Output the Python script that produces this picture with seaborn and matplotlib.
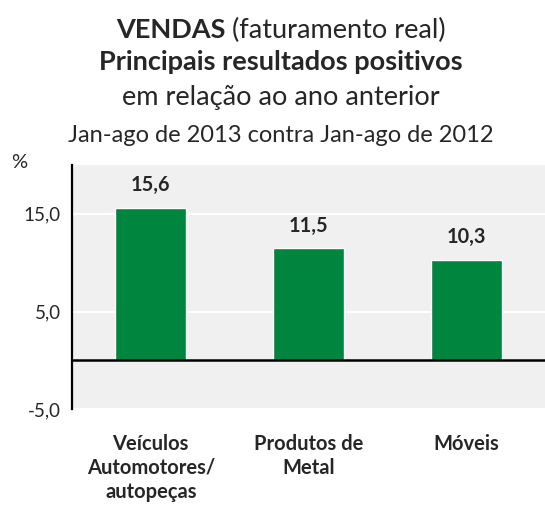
import matplotlib
matplotlib.use("Agg")
import matplotlib.pyplot as plt
import seaborn as sns
import pandas as pd

categorias = ["Veículos\nAutomotores/\nautopeças", "Produtos de\nMetal", "Móveis"]
valores = [15.6, 11.5, 10.3]
rotulos = ["15,6", "11,5", "10,3"]
yticks = [-5, 5, 15]
ytick_labels = ["-5,0", "5,0", "15,0"]

df = pd.DataFrame({"cat": categorias, "val": valores})

sns.set_style("white")
plt.rcParams["font.family"] = ["Lato", "DejaVu Sans"]

fig = plt.figure(figsize=(5.45, 5.09), dpi=100)
ax = fig.add_axes([0.132, 0.196, 0.868, 0.48])
ax.set_facecolor("#F0F0F0")

sns.barplot(data=df, x="cat", y="val", color="#00853F", width=0.45,
            saturation=1, ax=ax, zorder=3)

ax.set_ylim(-5, 20)
ax.set_xlim(-0.5, 2.5)
ax.set_yticks(yticks)
ax.set_yticklabels(ytick_labels, fontsize=13.5)
ax.yaxis.grid(True, color="white", linewidth=1.5, zorder=0)
ax.set_axisbelow(True)
ax.set_xlabel("")
ax.set_ylabel("")

for s in ["top", "right"]:
    ax.spines[s].set_visible(False)
ax.spines["left"].set_linewidth(1.6)
ax.spines["left"].set_color("black")
ax.spines["bottom"].set_position(("data", 0))
ax.spines["bottom"].set_linewidth(1.8)
ax.spines["bottom"].set_color("black")
ax.spines["bottom"].set_zorder(4)

ax.tick_params(axis="y", direction="out", length=5, width=1.5, color="black", pad=3)
ax.tick_params(axis="x", which="major", length=0, pad=53)
ax.set_xticks([0.5, 1.5], minor=True)
ax.tick_params(axis="x", which="minor", direction="out", length=6, width=1.5, color="black")
for lab in ax.get_xticklabels():
    lab.set_fontweight("bold")
    lab.set_fontsize(14.5)
    lab.set_linespacing(1.25)
    lab.set_verticalalignment("top")

for i, (v, t) in enumerate(zip(valores, rotulos)):
    ax.annotate(t, (i, v), xytext=(0, 9), textcoords="offset points",
                ha="center", va="bottom", fontsize=14.3, fontweight="bold")

fig.text(0.02, 0.68, "%", fontsize=14.5, ha="left", va="center")

# first title line: bold word + regular text, centred together
t1a = fig.text(0, 0.925, "VENDAS ", fontsize=19.5, fontweight="bold", va="baseline")
t1b = fig.text(0, 0.925, "(faturamento real)", fontsize=19.5, va="baseline")
fig.canvas.draw()
r = fig.canvas.get_renderer()
wa = t1a.get_window_extent(r).width
wb = t1b.get_window_extent(r).width
x0 = (281 - (wa + wb) / 2) / 545
t1a.set_x(x0)
t1b.set_x(x0 + wa / 545)

fig.text(0.516, 0.862, "Principais resultados positivos", fontsize=19.5,
         fontweight="bold", ha="center", va="baseline")
fig.text(0.516, 0.794, "em relação ao ano anterior", fontsize=19.5,
         ha="center", va="baseline")
fig.text(0.516, 0.721, "Jan-ago de 2013 contra Jan-ago de 2012", fontsize=17,
         ha="center", va="baseline")

fig.savefig("out.png", dpi=100)
